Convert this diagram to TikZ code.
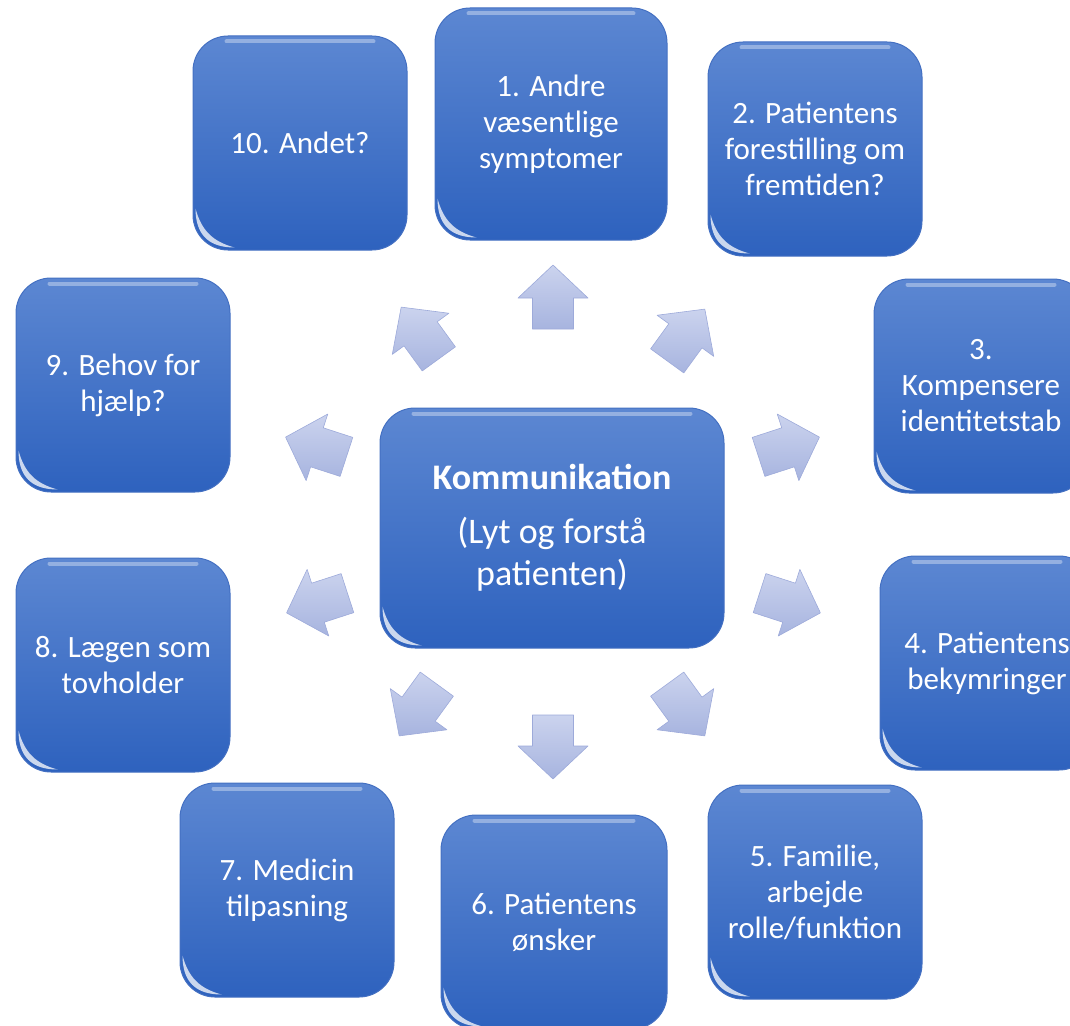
\documentclass[tikz,border=0pt]{standalone}
\usepackage{fontspec}
\setmainfont{Carlito}
\definecolor{boxtop}{HTML}{5C87D2}
\definecolor{boxbot}{HTML}{2E62BE}
\definecolor{boxedge}{HTML}{4470C2}
\definecolor{arrtop}{HTML}{CBD3EE}
\definecolor{arrbot}{HTML}{A7B4DF}
\definecolor{arredge}{HTML}{9DAADA}
\begin{document}
\begin{tikzpicture}[x=1pt,y=-1pt,
  box/.style={rounded corners=35pt, minimum width=214pt, minimum height=214pt,
    top color=boxtop, bottom color=boxbot, draw=boxedge, line width=1pt,
    text=white, align=center, inner sep=0pt, font=\fontsize{31}{36}\selectfont},
  gloss/.style={white, opacity=.35, line width=4pt, line cap=round},
  cornergloss/.style={fill=white, fill opacity=.75},
  blockarrow/.style={top color=arrtop, bottom color=arrbot, draw=arredge, line width=.6pt, line join=round}
]
\useasboundingbox (0,0) rectangle (1070,1025);
\clip (0,0) rectangle (1070,1025);

% outer boxes
\node[box, minimum width=232pt, minimum height=232pt] (b1) at (551,124) {1. Andre\\væsentlige\\symptomer};
\node[box] (b2) at (815,149) {2. Patientens\\forestilling om\\fremtiden?};
\node[box] (b3) at (981,386) {3.\\Kompensere\\identitetstab};
\node[box] (b4) at (987,663) {4. Patientens\\bekymringer};
\node[box] (b5) at (815,892) {5. Familie,\\arbejde\\rolle/funktion};
\node[box, minimum width=226pt] (b6) at (554,922) {6. Patientens\\ønsker};
\node[box] (b7) at (287,890) {7. Medicin\\tilpasning};
\node[box] (b8) at (123,665) {8. Lægen som\\tovholder};
\node[box] (b9) at (123,385) {9. Behov for\\hjælp?};
\node[box] (b10) at (300,143) {10. Andet?};

% centre box
\node[box, minimum width=344pt, minimum height=240pt, font=\fontsize{36}{42}\selectfont] (c) at (552,528)
  {\textbf{Kommunikation}\\[12pt](Lyt og forstå\\patienten)};

% glossy highlights
\foreach \n in {b1,b2,b3,b4,b5,b6,b7,b8,b9,b10,c}{
  \draw[gloss] ([xshift=34pt,yshift=-6pt]\n.north west) -- ([xshift=-34pt,yshift=-6pt]\n.north east);
  \path[cornergloss] ([xshift=3pt,yshift=42pt]\n.south west)
     .. controls ([xshift=3pt,yshift=16pt]\n.south west) and ([xshift=16pt,yshift=3pt]\n.south west) .. ([xshift=42pt,yshift=3pt]\n.south west)
     .. controls ([xshift=20pt,yshift=9pt]\n.south west) and ([xshift=9pt,yshift=20pt]\n.south west) .. cycle;
}

% block arrows radiating from the centre
\foreach \x/\y/\a in {553/297/90, 686/335/54, 789/447/18, 790/603/-18, 686/710/-54,
                      553/747/-90, 418/710/-126, 317/603/-162, 316/447/162, 420/333/126}{
  \path[blockarrow, shift={(\x,\y)}, rotate=\a]
    (-32pt,-20.5pt) -- (-1pt,-20.5pt) -- (-1pt,-35pt) -- (32pt,0pt) -- (-1pt,35pt) -- (-1pt,20.5pt) -- (-32pt,20.5pt) -- cycle;
}
\end{tikzpicture}
\end{document}
